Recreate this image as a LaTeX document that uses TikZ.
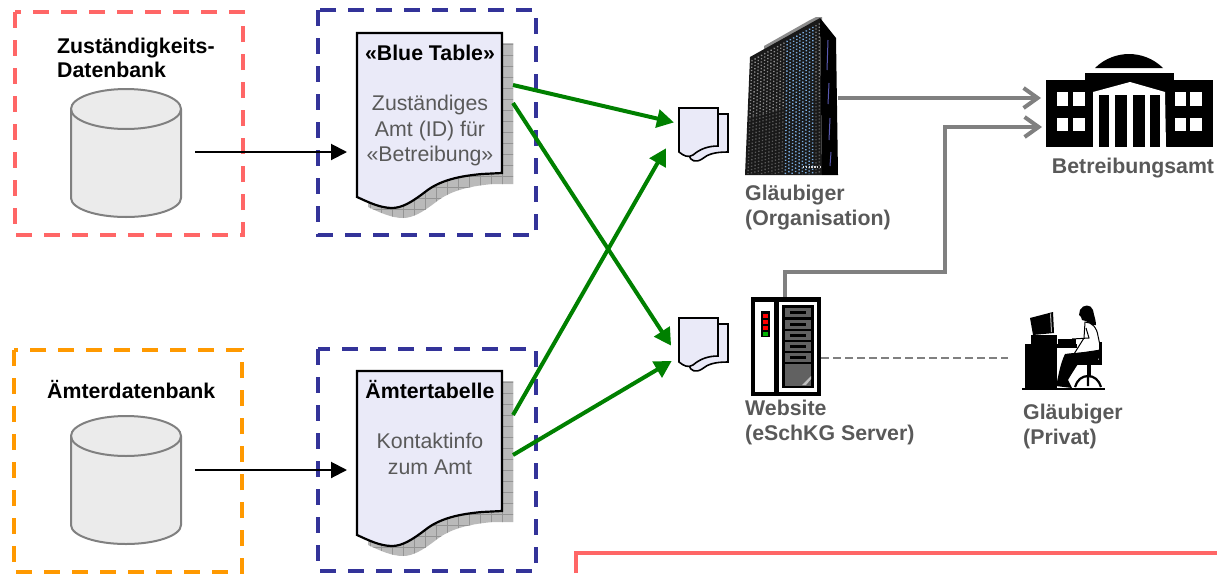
\documentclass[tikz,border=0pt]{standalone}
\usepackage{fontspec}
\setmainfont{Liberation Sans}
\usetikzlibrary{arrows.meta}
\definecolor{cred}{HTML}{FF6666}
\definecolor{cblue}{HTML}{333399}
\definecolor{corange}{HTML}{FF9900}
\definecolor{cgreen}{HTML}{008000}
\definecolor{cgray}{HTML}{808080}
\definecolor{ctext}{HTML}{595959}
\definecolor{cpage}{HTML}{EAEAF8}
\tikzset{
  dashbox/.style={line width=4pt,dash pattern=on 16pt off 12pt},
  dbshape/.style={draw=cgray,fill=black!8,line width=2pt},
  blackarrow/.style={line width=2pt,-{Triangle[length=16pt,width=16pt]}},
  greenarrow/.style={draw=cgreen,line width=4pt,-{Triangle[length=17pt,width=18pt]},shorten >=-2pt},
  grayarrow/.style={draw=cgray,line width=4pt,-{Straight Barb[length=14pt,width=20pt,line width=4pt]}},
  label/.style={font=\fontsize{21.3}{25.5}\selectfont,inner sep=0pt},
  boldblack/.style={label,font=\fontsize{21.3}{25}\selectfont\bfseries},
  boldgray/.style={boldblack,text=ctext,align=left},
  plain/.style={label,text=ctext,align=center},
}
\newcommand{\cyl}[2]{% x left, y top
  \path[dbshape] (#1,#2+20) -- (#1,#2+109) .. controls (#1,#2+119.5) and (#1+24.6,#2+128) .. (#1+55,#2+128) .. controls (#1+85.4,#2+128) and (#1+110,#2+119.5) .. (#1+110,#2+109) -- (#1+110,#2+20) .. controls (#1+110,#2+9) and (#1+85.4,#2) .. (#1+55,#2) .. controls (#1+24.6,#2) and (#1,#2+9) .. (#1,#2+20) -- cycle;
  \draw[cgray,line width=2pt] (#1,#2+20) .. controls (#1,#2+31) and (#1+24.6,#2+40) .. (#1+55,#2+40) .. controls (#1+85.4,#2+40) and (#1+110,#2+31) .. (#1+110,#2+20);
}
\newcommand{\bigdoc}[1]{% y offset
  \begin{scope}[yshift=-#1pt]
    \begin{scope}
      \clip (368,43) -- (513,43) -- (513,184) -- (493,184) .. controls (471,186) and (451,190) .. (436,202) .. controls (423,212) and (413,218) .. (403,218) .. controls (391,218) and (379,212) .. (368,207) -- cycle;
      \fill[black!27] (360,40) rectangle (520,230);
      \foreach \gx in {370,381,...,513}{\draw[black!42,line width=.7pt] (\gx,40) -- (\gx,230);}
      \foreach \gy in {44,55,...,222}{\draw[black!42,line width=.7pt] (360,\gy) -- (520,\gy);}
    \end{scope}
    \draw[fill=cpage,line width=2.2pt] (357,33) -- (502,33) -- (502,173) -- (482,174) .. controls (460,176) and (440,180) .. (425,192) .. controls (412,202) and (402,208) .. (392,208) .. controls (380,208) and (368,202) .. (357,197) -- cycle;
  \end{scope}
}
\newcommand{\smalldoc}[1]{%
  \begin{scope}[yshift=-#1pt]
    \draw[fill=cpage,line width=1.6pt] (690,114) -- (728,114) -- (728,152) .. controls (715,152) and (708,154) .. (702,159) .. controls (696,163) and (690,161) .. (689,155) -- cycle;
    \draw[fill=cpage,line width=1.6pt] (679,108) -- (718,108) -- (718,146) .. controls (708,146) and (700,149) .. (693,155) .. controls (688,158) and (684,156) .. (679,152) -- cycle;
  \end{scope}
}
\begin{document}
\begin{tikzpicture}[x=1pt,y=-1pt]
\useasboundingbox (0,0) rectangle (1217,573);
% frames
\draw[dashbox,cred] (15,12) rectangle (243,235);
\draw[dashbox,cblue] (318,10) rectangle (536,235);
\draw[dashbox,corange] (14,350) rectangle (242,572);
\draw[dashbox,cblue] (318,349) rectangle (536,571);
\draw[cred,line width=4pt] (576,573) -- (576,553) -- (1217,553);
% databases
\cyl{71}{89}
\cyl{71}{416}
% documents
\bigdoc{0}
\bigdoc{338}
\smalldoc{0}
\smalldoc{210}
% coordinates for connectors
\coordinate (db1) at (195,152);
\coordinate (doc1in) at (347,152);
\coordinate (db2) at (195,470);
\coordinate (doc2in) at (347,470);
\coordinate (bt1) at (513,85);
\coordinate (bt2) at (513,103);
\coordinate (at1) at (513,415);
\coordinate (at2) at (513,455);
\coordinate (sd1a) at (672,122);
\coordinate (sd1b) at (665,150);
\coordinate (sd2a) at (670,344);
\coordinate (sd2b) at (670,362);
\coordinate (org) at (838,98);
\coordinate (amt1) at (1041,98);
\coordinate (srv) at (785,297);
\coordinate (amt2) at (1042,127);
\coordinate (srvr) at (821,358);
\coordinate (pers) at (1008,358);
% connectors
\draw[blackarrow] (db1) -- (doc1in);
\draw[blackarrow] (db2) -- (doc2in);
\draw[greenarrow] (bt1) -- (sd1a);
\draw[greenarrow] (bt2) -- (sd2a);
\draw[greenarrow] (at1) -- (sd1b);
\draw[greenarrow] (at2) -- (sd2b);
\draw[grayarrow] (org) -- (amt1);
\draw[grayarrow] (srv) -- (785,272) -- (945,272) -- (945,127) -- (amt2);
\draw[cgray,line width=2pt,dash pattern=on 8pt off 4pt] (srvr) -- (pers);
% office tower
\fill[black!45] (764,51) -- (764,46) -- (810,20) -- (816,17) -- (822,17) -- (822,24) -- cycle;
\fill[black!90] (750,57) -- (820,18) -- (822,175) -- (745,175) -- cycle;
\fill[black] (820,18) -- (836,38) -- (838,175) -- (822,175) -- cycle;
\foreach \i in {0,...,21}{
  \pgfmathsetmacro{\xt}{752+\i*3.2}
  \pgfmathsetmacro{\xb}{748+\i*3.4}
  \pgfmathsetmacro{\xm}{0.5*\xt+0.5*\xb}
  \pgfmathsetmacro{\yt}{60-\i*1.75}
  \pgfmathsetmacro{\ym}{0.5*\yt+87}
  \pgfmathsetmacro{\cc}{(\i>10 && \i<20) ? 1 : 0}
  \ifdim\cc pt>0.5pt
    \draw[line width=1.5pt,dash pattern=on 1.3pt off 2pt,color={rgb,255:red,120;green,170;blue,220}] (\xt,\yt) -- (\xb,174);
  \else
    \draw[line width=1.4pt,dash pattern=on 1.3pt off 2pt,black!45] (\xt,\yt) -- (\xm,\ym);
    \draw[line width=1.4pt,dash pattern=on 1.3pt off 2pt,black!65] (\xm,\ym) -- (\xb,174);
  \fi
}
\draw[white!85!black,line width=2.6pt,dash pattern=on 1.4pt off 1.4pt] (803,167) -- (820,167);
\draw[white!50!blue!70!black,line width=1pt] (828,40) -- (827,70) (829,83) -- (828,104) (830,118) -- (829,140) (831,152) -- (830,166);
% government building
\fill (1095,68) .. controls (1105,58) and (1118,54) .. (1129,54) .. controls (1140,54) and (1153,58) .. (1163,68) -- cycle;
\fill (1046,80) rectangle (1213,147);
\fill (1085,73) rectangle (1174,90);
\fill[white] (1093,92) -- (1130,82) -- (1165,92) -- (1166,147) -- (1093,147) -- cycle;
\foreach \xa/\xb in {1099/1109,1115/1127,1133/1145,1150/1160}{\fill (\xa,95) rectangle (\xb,147);}
\foreach \xa/\xb in {1057/1068,1073/1085,1175/1186,1190/1202}{
  \fill[white] (\xa,92) rectangle (\xb,106);
  \fill[white] (\xa,118) rectangle (\xb,131);
}
% server
\fill (751,297) rectangle (821,396);
\fill[white] (755,302) rectangle (774,392);
\fill[white] (779,302) rectangle (817,392);
\fill (782,305) rectangle (814,388);
\foreach \yy in {308,320,331,342,353}{
  \fill[black!62] (785,\yy) rectangle (811,\yy+8.5);
  \fill (790,\yy+3) rectangle (806,\yy+5.5);
}
\fill[black!62] (785,364) rectangle (811,386);
\fill[black!25] (802,385) -- (811,376) -- (811,379) -- (806,385) -- cycle;
\fill[black] (761,311) rectangle (770,337);
\foreach \yy in {313.5,319.5,325.5}{\fill[red] (763,\yy) rectangle (768,\yy+4);}
\fill[green!70!black] (763,331.5) rectangle (768,335.5);
% person at desk
\fill (1030,318) -- (1053,312) -- (1054,333) -- (1033,335) -- cycle;
\fill[white!70!black] (1050,314) -- (1051,332) -- (1052,332) -- (1051,313) -- cycle;
\fill (1031,335) rectangle (1057,344);
\fill (1058,339) rectangle (1076,344);
\fill (1025,344) rectangle (1077,348);
\fill (1025,344) rectangle (1057,388);
\fill (1022,388) rectangle (1105,390);
% hair and face
\fill (1080,310) .. controls (1083,304) and (1091,304) .. (1093,310) .. controls (1094,316) and (1096,320) .. (1096,325) -- (1090,325) -- (1086,321) -- (1082,320) -- (1081,317) -- (1079,315) -- cycle;
% torso and arm
\draw[line width=1pt,fill=white] (1085,322) .. controls (1092,322) and (1097,328) .. (1098,336) -- (1101,350) -- (1074,354) -- (1084,338) -- cycle;
\draw[line width=1pt] (1086,328) -- (1089,338) -- (1072,339);
% legs
\fill (1101,349) .. controls (1092,353) and (1078,352) .. (1065,354) .. controls (1060,364) and (1058,378) .. (1056,386) -- (1072,388) -- (1068,380) .. controls (1072,373) and (1076,367) .. (1080,361) -- (1098,361) -- cycle;
% chair
\fill (1075,360) rectangle (1101,365);
\fill (1099,342) rectangle (1102,365);
\fill (1086.5,365) rectangle (1090.5,377);
\draw[line width=2.2pt] (1075,387) .. controls (1077,380) and (1082,376) .. (1088,376) .. controls (1094,376) and (1099,380) .. (1101,387) (1088,376) -- (1088,386);
% labels
\node[boldblack,anchor=base west] (l1a) at (57,53) {Zuständigkeits-};
\node[boldblack,anchor=base west] (l1b) at (57,77) {Datenbank};
\node[boldblack,anchor=base west] (l2) at (47,398) {Ämterdatenbank};
\node[boldblack,anchor=base] (t1) at (430,60) {«Blue Table»};
\node[plain,anchor=base] (t1b) at (430,161.5) {Zuständiges\hspace{12pt}\\Amt (ID) für\\«Betreibung»};
\node[boldblack,anchor=base] (t2) at (430,398) {Ämtertabelle};
\node[plain,anchor=base] (t2b) at (430,474) {Kontaktinfo\\zum Amt};
\node[boldgray,anchor=base west] (n1) at (745,225.5) {Gläubiger\\(Organisation)};
\node[boldgray,anchor=base west] (n2) at (745,440.5) {Website\\(eSchKG Server)};
\node[boldgray,anchor=base west] (n3) at (1023,444.5) {Gläubiger\\(Privat)};
\node[boldgray,anchor=base] (n4) at (1133,173) {Betreibungsamt};
\end{tikzpicture}
\end{document}
